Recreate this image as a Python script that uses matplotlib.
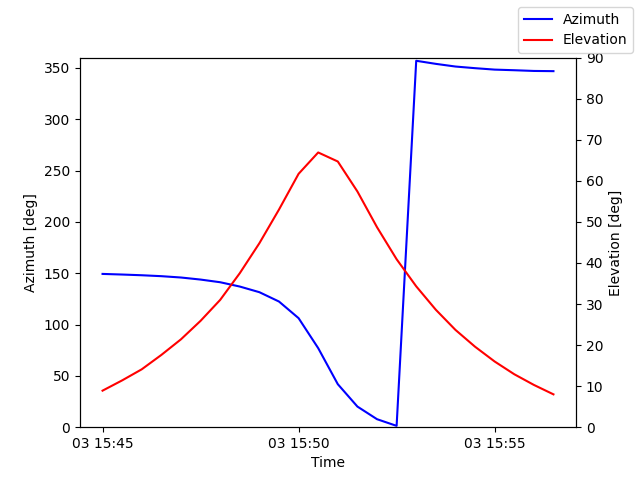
import numpy as np
import pandas as pd
from matplotlib import pyplot as plt

# 30秒間隔の追尾データ
times = pd.date_range("2024-01-03 15:45:00", periods=24, freq="30s")

azimuth = [149.3, 148.7, 148.0, 147.1, 145.8, 143.8, 141.2, 137.0,
           131.5, 122.4, 106.2, 77.0, 41.9, 20.1, 7.8, 1.3,
           356.9, 353.9, 351.3, 349.7, 348.3, 347.7, 347.0, 346.8]

elevation = [8.9, 11.4, 14.1, 17.6, 21.4, 25.9, 31.0, 37.5,
             44.8, 53.0, 61.7, 66.9, 64.7, 57.4, 48.7, 40.9,
             34.3, 28.6, 23.7, 19.6, 16.0, 12.9, 10.3, 8.0]

fig, ax1 = plt.subplots()
ax1.plot(times, azimuth, color="blue", label="Azimuth")
ax1.set_xlabel("Time")
ax1.set_ylabel("Azimuth [deg]")
ax1.set_ylim(0, 360)

ax2 = ax1.twinx()
ax2.plot(times, elevation, color="red", label="Elevation")
ax2.set_ylabel("Elevation [deg]")
ax2.set_ylim(0, 90)

fig.legend(loc="upper right")

plt.savefig("out.png")
